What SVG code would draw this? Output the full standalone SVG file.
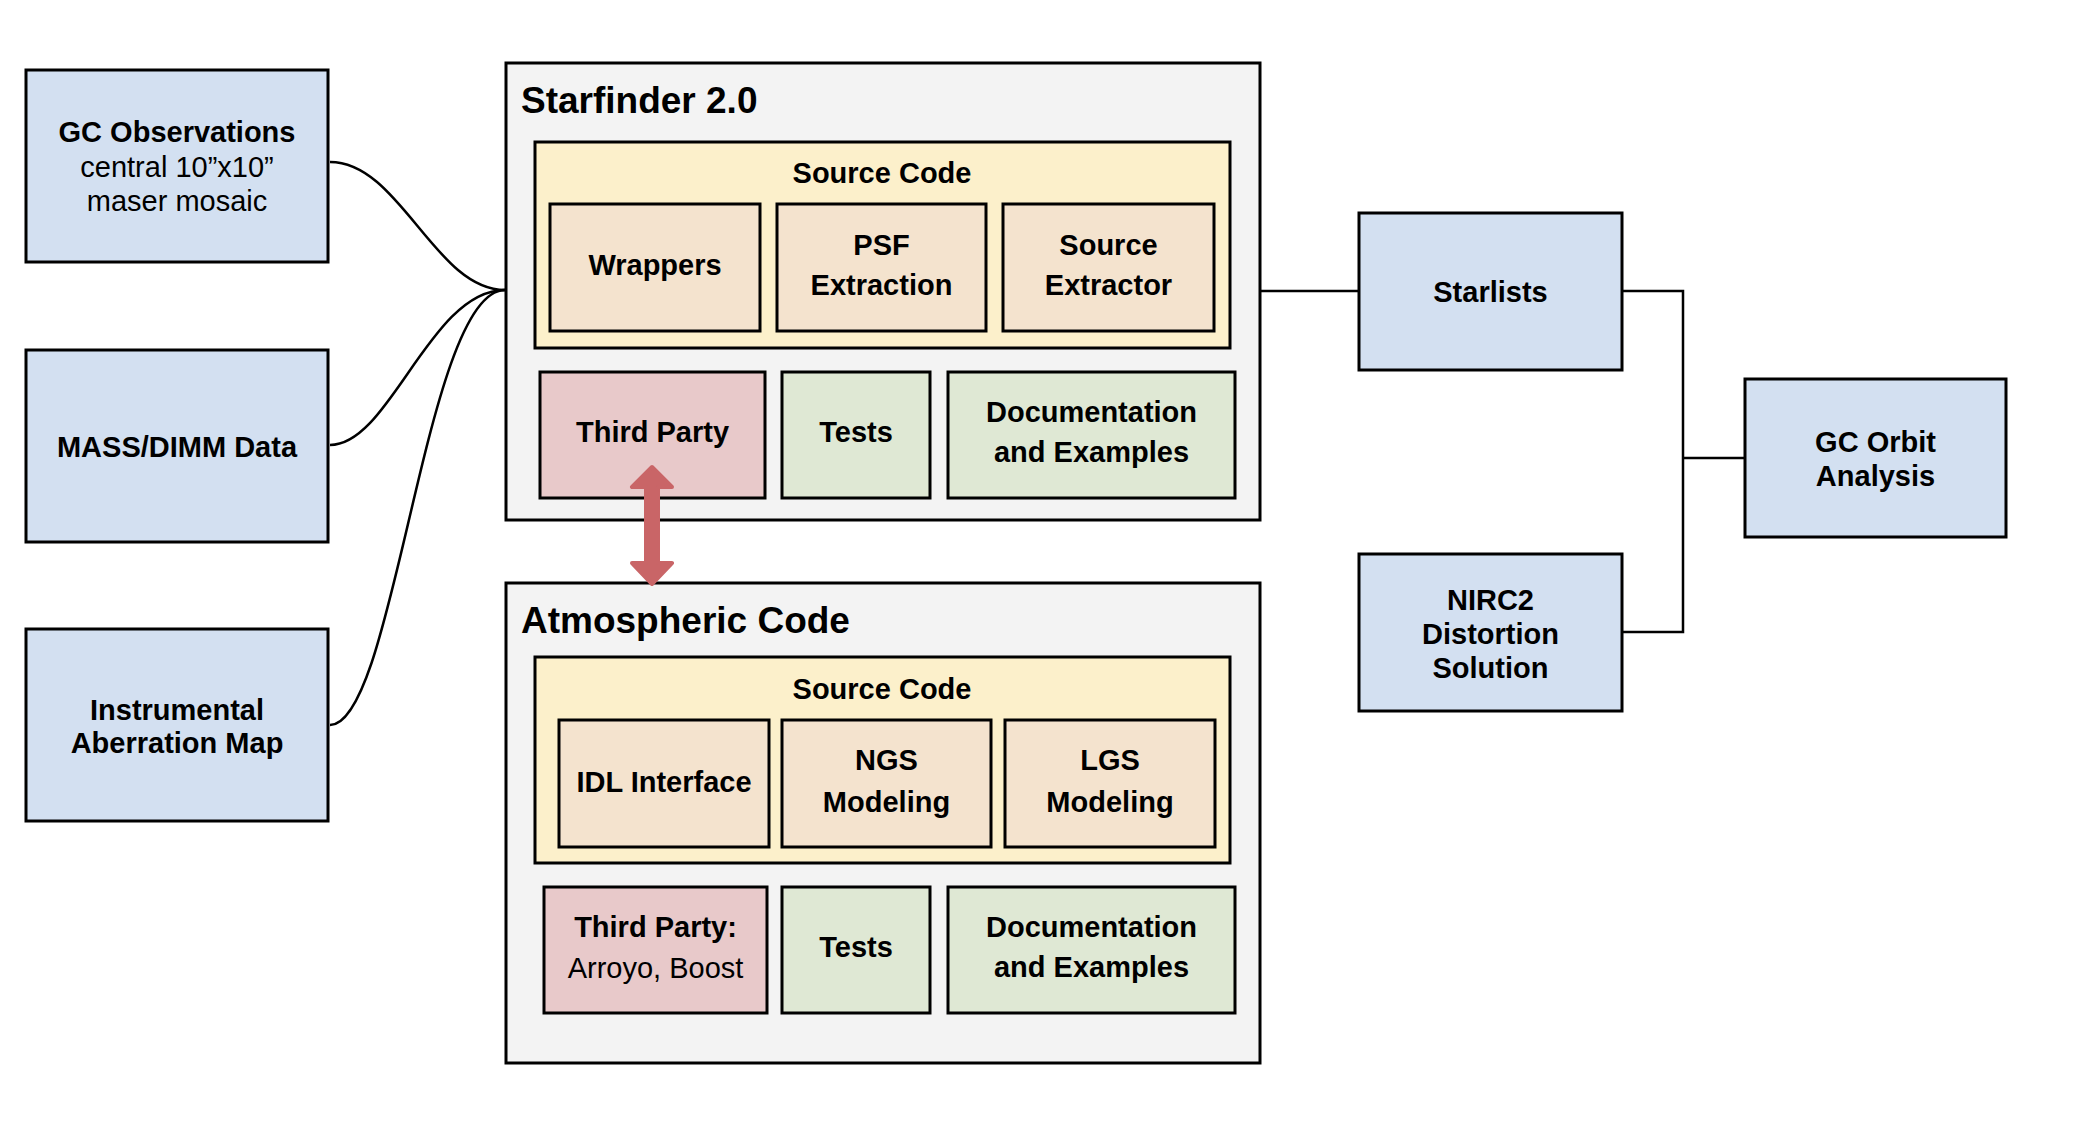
<svg xmlns="http://www.w3.org/2000/svg" width="2100" height="1125" viewBox="0 0 2100 1125">
<style>
text{font-family:"Liberation Sans",Arial,sans-serif;font-size:29px;fill:#000;text-anchor:middle}
.b{font-weight:bold}
.t{font-weight:bold;font-size:37px;text-anchor:start}
.box{stroke:#000;stroke-width:3}
.blue{fill:#d3e0f1}
.grey{fill:#f3f3f3}
.yel{fill:#fcf0cb}
.peach{fill:#f4e3ce}
.pink{fill:#e8c9ca}
.green{fill:#dfe8d4}
.con{fill:none;stroke:#000;stroke-width:2.5}
</style>
<rect width="2100" height="1125" fill="#fff"/>
<g id="connectors">
<path class="con" d="M330,162 C400,162 435,290 505,290"/>
<path class="con" d="M330,445 C390,445 430,290 505,290"/>
<path class="con" d="M330,725 C395,725 425,290 505,290"/>
<path class="con" d="M1260,291 H1359"/>
<path class="con" d="M1622,291 H1683 V632 H1622"/>
<path class="con" d="M1683,458 H1745"/>
</g>
<g id="gc-observations">
<rect class="box blue" x="26" y="70" width="302" height="192"/>
<text class="b" x="177" y="142">GC Observations</text>
<text x="177" y="177">central 10”x10”</text>
<text x="177" y="211">maser mosaic</text>
</g>
<g id="mass-dimm">
<rect class="box blue" x="26" y="350" width="302" height="192"/>
<text class="b" x="177" y="457">MASS/DIMM Data</text>
</g>
<g id="instrumental">
<rect class="box blue" x="26" y="629" width="302" height="192"/>
<text class="b" x="177" y="720">Instrumental</text>
<text class="b" x="177" y="753">Aberration Map</text>
</g>
<g id="starfinder">
<rect class="box grey" x="506" y="63" width="754" height="457"/>
<text class="t" x="521" y="113">Starfinder 2.0</text>
<g id="sf-source">
<rect class="box yel" x="535" y="142" width="695" height="206"/>
<text class="b" x="882" y="183">Source Code</text>
</g>
<g id="sf-wrappers">
<rect class="box peach" x="550" y="204" width="210" height="127"/>
<text class="b" x="655" y="275">Wrappers</text>
</g>
<g id="sf-psf">
<rect class="box peach" x="777" y="204" width="209" height="127"/>
<text class="b" x="881.5" y="255">PSF</text>
<text class="b" x="881.5" y="295">Extraction</text>
</g>
<g id="sf-extractor">
<rect class="box peach" x="1003" y="204" width="211" height="127"/>
<text class="b" x="1108.5" y="255">Source</text>
<text class="b" x="1108.5" y="295">Extractor</text>
</g>
<g id="sf-third">
<rect class="box pink" x="540" y="372" width="225" height="126"/>
<text class="b" x="652.5" y="442">Third Party</text>
</g>
<g id="sf-tests">
<rect class="box green" x="782" y="372" width="148" height="126"/>
<text class="b" x="856" y="442">Tests</text>
</g>
<g id="sf-docs">
<rect class="box green" x="948" y="372" width="287" height="126"/>
<text class="b" x="1091.5" y="422">Documentation</text>
<text class="b" x="1091.5" y="462">and Examples</text>
</g>
</g>
<g id="atmospheric">
<rect class="box grey" x="506" y="583" width="754" height="480"/>
<text class="t" x="521" y="633">Atmospheric Code</text>
<g id="ac-source">
<rect class="box yel" x="535" y="657" width="695" height="206"/>
<text class="b" x="882" y="699">Source Code</text>
</g>
<g id="ac-idl">
<rect class="box peach" x="559" y="720" width="210" height="127"/>
<text class="b" x="664" y="792">IDL Interface</text>
</g>
<g id="ac-ngs">
<rect class="box peach" x="782" y="720" width="209" height="127"/>
<text class="b" x="886.5" y="770">NGS</text>
<text class="b" x="886.5" y="812">Modeling</text>
</g>
<g id="ac-lgs">
<rect class="box peach" x="1005" y="720" width="210" height="127"/>
<text class="b" x="1110" y="770">LGS</text>
<text class="b" x="1110" y="812">Modeling</text>
</g>
<g id="ac-third">
<rect class="box pink" x="544" y="887" width="223" height="126"/>
<text class="b" x="655.5" y="937">Third Party:</text>
<text x="655.5" y="978">Arroyo, Boost</text>
</g>
<g id="ac-tests">
<rect class="box green" x="782" y="887" width="148" height="126"/>
<text class="b" x="856" y="957">Tests</text>
</g>
<g id="ac-docs">
<rect class="box green" x="948" y="887" width="287" height="126"/>
<text class="b" x="1091.5" y="937">Documentation</text>
<text class="b" x="1091.5" y="977">and Examples</text>
</g>
</g>
<g id="arrow">
<path d="M652,467 L632,487 H646 V563 H632 L652,584 L672,563 H658 V487 H672 Z" fill="#c96567" stroke="#c96567" stroke-width="4" stroke-linejoin="round"/>
</g>
<g id="starlists">
<rect class="box blue" x="1359" y="213" width="263" height="157"/>
<text class="b" x="1490.5" y="302">Starlists</text>
</g>
<g id="nirc2">
<rect class="box blue" x="1359" y="554" width="263" height="157"/>
<text class="b" x="1490.5" y="610">NIRC2</text>
<text class="b" x="1490.5" y="644">Distortion</text>
<text class="b" x="1490.5" y="678">Solution</text>
</g>
<g id="gc-orbit">
<rect class="box blue" x="1745" y="379" width="261" height="158"/>
<text class="b" x="1875.5" y="452">GC Orbit</text>
<text class="b" x="1875.5" y="486">Analysis</text>
</g>
</svg>
